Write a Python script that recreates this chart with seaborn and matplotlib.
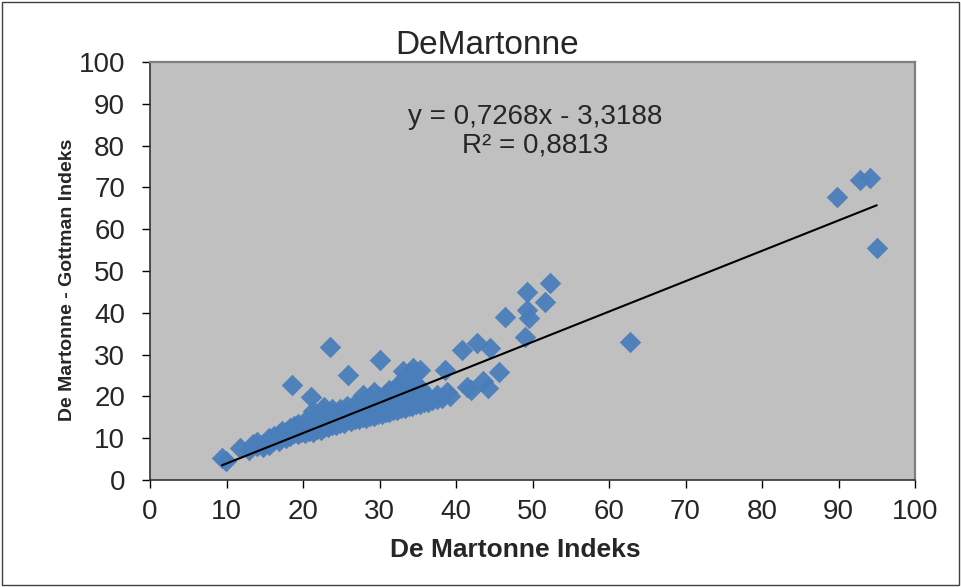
"""DeMartonne vs De Martonne - Gottman scatter with linear trend."""
import matplotlib
matplotlib.use('Agg')
import matplotlib.pyplot as plt
import numpy as np
import pandas as pd
import seaborn as sns
from matplotlib.patches import Rectangle

sns.set_style('white')
plt.rcParams['font.family'] = ['Liberation Sans', 'DejaVu Sans']

TITLE = 'DeMartonne'
X_LABEL = 'De Martonne Indeks'
Y_LABEL = 'De Martonne - Gottman Indeks'
SLOPE = 0.7268
INTERCEPT = -3.3188
EQ_TEXT = 'y = 0,7268x - 3,3188'
R2_TEXT = 'R² = 0,8813'
TICKS = [0, 10, 20, 30, 40, 50, 60, 70, 80, 90, 100]

# points (dense band estimated)
de_martonne = [
    9.4, 9.9, 11.8, 13.0, 13.5,
    14.0, 14.0, 14.8, 14.8, 15.5, 15.5, 15.5, 16.2, 16.2, 16.8, 16.8, 16.8,
    17.3, 17.3, 17.8, 17.8, 18.3, 18.3, 18.3, 18.8, 18.8, 19.3, 19.3, 19.3,
    19.8, 19.8, 20.3, 20.3, 20.3, 20.8, 20.8, 21.3, 21.3, 21.3, 21.3,
    21.8, 21.8, 21.8, 22.3, 22.3, 22.3, 22.8, 22.8, 22.8, 22.8,
    23.3, 23.3, 23.3, 23.8, 23.8, 23.8, 24.3, 24.3, 24.3, 24.8, 24.8, 24.8,
    25.3, 25.3, 25.3, 25.8, 25.8, 25.8, 26.3, 26.3, 26.3, 26.8, 26.8, 26.8,
    27.3, 27.3, 27.3, 27.8, 27.8, 27.8, 27.8, 28.3, 28.3, 28.3,
    28.8, 28.8, 28.8, 29.3, 29.3, 29.3, 29.3, 29.8, 29.8, 29.8,
    30.3, 30.3, 30.3, 30.8, 30.8, 30.8, 31.3, 31.3, 31.3, 31.3,
    31.8, 31.8, 31.8, 32.3, 32.3, 32.3, 32.3, 32.8, 32.8, 32.8, 32.8,
    33.3, 33.3, 33.3, 33.3, 33.8, 33.8, 33.8, 33.8, 34.3, 34.3, 34.3, 34.3,
    34.8, 34.8, 34.8, 34.8, 35.3, 35.3, 35.3, 35.3, 35.8, 35.8, 36.3, 36.3,
    36.8, 37.5, 37.5, 38.2, 38.8, 38.6, 39.2, 33.1, 34.4,
    18.5, 21.1, 23.5, 25.9, 30.0,
    40.8, 42.8, 44.4, 41.4, 42.0, 43.5, 44.2, 45.6, 46.4, 49.3, 52.3, 51.6,
    49.3, 49.5, 49.0,
    62.7, 89.8, 92.8, 94.1, 95.0,
]
gottman = [
    5.3, 4.5, 7.6, 7.2, 8.5,
    8.2, 9.0, 8.6, 7.9, 9.0, 10.0, 8.4, 9.5, 10.6, 9.4, 11.0, 10.1,
    10.4, 11.8, 10.0, 11.4, 10.5, 12.4, 11.2, 11.2, 12.9, 10.9, 12.0, 13.4,
    11.5, 12.9, 11.2, 12.5, 14.0, 11.8, 13.4, 11.5, 12.8, 14.6, 16.4,
    12.2, 13.9, 15.4, 12.0, 13.3, 15.0, 12.6, 14.4, 16.6, 17.4,
    12.6, 13.9, 15.8, 13.2, 15.1, 16.9, 13.1, 14.3, 16.0, 13.7, 15.4, 17.1,
    13.6, 14.9, 16.5, 14.3, 16.0, 17.8, 14.2, 15.3, 17.0, 14.5, 16.2, 18.2,
    14.6, 15.6, 17.5, 15.0, 16.8, 18.8, 20.4, 14.9, 16.1, 18.0,
    15.4, 17.2, 19.5, 15.3, 16.6, 18.5, 21.0, 15.8, 17.8, 20.0,
    15.8, 17.1, 19.2, 16.3, 18.2, 20.5, 16.2, 17.6, 19.8, 21.5,
    16.8, 18.8, 21.0, 16.7, 18.1, 20.2, 22.5, 17.3, 19.2, 21.8, 23.5,
    17.2, 18.6, 20.8, 24.5, 17.8, 19.8, 22.5, 25.5, 17.6, 19.1, 21.5, 24.0,
    18.3, 20.5, 23.0, 25.8, 18.2, 19.6, 22.0, 26.2, 18.7, 20.8, 18.6, 19.9,
    19.2, 20.3, 19.4, 19.7, 21.1, 26.3, 20.1, 26.0, 26.9,
    22.8, 19.9, 31.9, 25.1, 28.8,
    31.1, 32.8, 31.6, 22.3, 21.6, 23.6, 22.1, 25.8, 39.0, 45.0, 47.1, 42.6,
    40.7, 38.8, 34.2,
    33.0, 67.6, 71.7, 72.3, 55.6,
]

df = pd.DataFrame({'x': de_martonne, 'y': gottman})

W, H = 961, 587
fig = plt.figure(figsize=(W / 100, H / 100), dpi=100)
left, right, top, bottom = 150, 915, 62, 480
ax = fig.add_axes([left / W, 1 - bottom / H, (right - left) / W, (bottom - top) / H])
ax.set_facecolor('#C0C0C0')

sns.scatterplot(data=df, x='x', y='y', marker='D', s=120, color='#4A7EBB',
                linewidth=0, alpha=0.95, ax=ax, zorder=2)

xs = np.array([df['x'].min(), df['x'].max()])
ax.plot(xs, SLOPE * xs + INTERCEPT, color='black', linewidth=1.5, zorder=3)

ax.set_xlim(0, 100)
ax.set_ylim(0, 100)
ax.set_xticks(TICKS)
ax.set_yticks(TICKS)
ax.tick_params(axis='both', direction='out', length=6, width=1, color='black',
               labelsize=20, bottom=True, left=True)
ax.tick_params(axis='y', pad=12)
ax.tick_params(axis='x', pad=8)
ax.grid(False)
for side in ['top', 'right']:
    ax.spines[side].set_color('#808080')
    ax.spines[side].set_linewidth(1.6)
for side in ['left', 'bottom']:
    ax.spines[side].set_color('#333333')
    ax.spines[side].set_linewidth(1.2)
ax.set_xlabel('')
ax.set_ylabel('')

fig.text(487 / W, 1 - 45 / H, TITLE, ha='center', va='center', fontsize=24)
fig.text(515 / W, 1 - 550 / H, X_LABEL, ha='center', va='center',
         fontsize=19, fontweight='bold')
fig.text(68 / W, 1 - 280 / H, Y_LABEL, ha='center', va='center',
         fontsize=14, fontweight='bold', rotation=90)
fig.text(535 / W, 1 - 117 / H, EQ_TEXT, ha='center', va='center', fontsize=20)
fig.text(535 / W, 1 - 145 / H, R2_TEXT, ha='center', va='center', fontsize=20)

fig.patches.append(Rectangle((2 / W, 2 / H), (W - 4) / W, (H - 4) / H,
                             transform=fig.transFigure, fill=False,
                             edgecolor='#404040', linewidth=1))

fig.savefig('out.png', dpi=100)
